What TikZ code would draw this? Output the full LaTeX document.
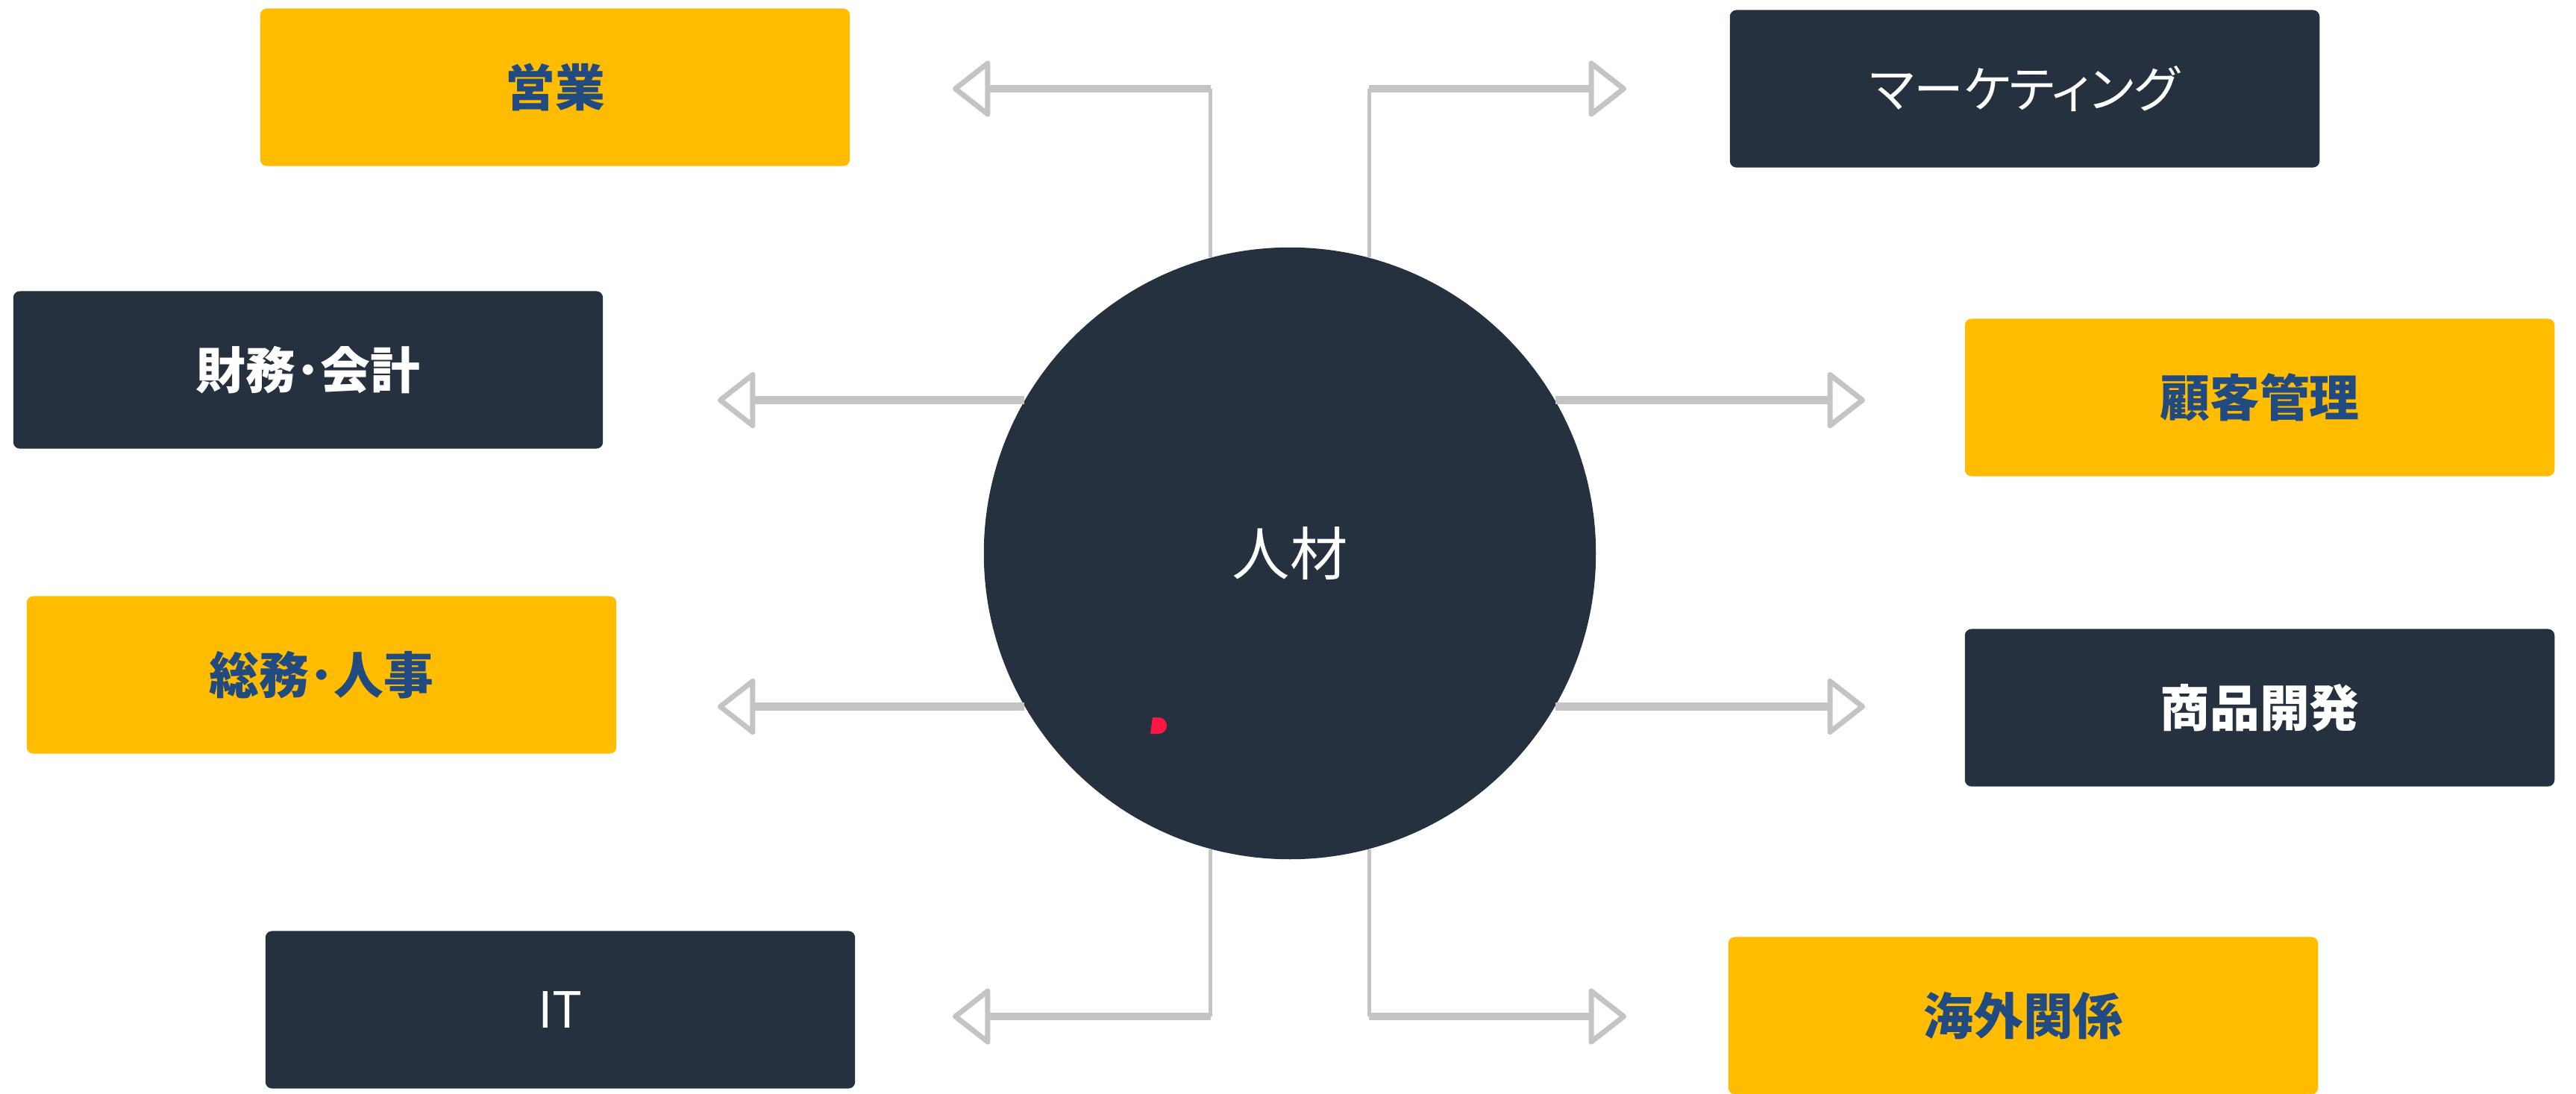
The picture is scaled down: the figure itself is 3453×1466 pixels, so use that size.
\documentclass[tikz,border=0pt]{standalone}
\usepackage{fontspec}
\usepackage{tikz}
\usetikzlibrary{arrows.meta}
\setmainfont{Noto Sans CJK JP}
\definecolor{hrgold}{HTML}{FFBC00}
\definecolor{hrnavy}{HTML}{263140}
\definecolor{hrblue}{HTML}{214B80}
\definecolor{hrgray}{HTML}{C4C4C4}
\definecolor{hrred}{HTML}{FF1744}

\begin{document}
\begin{tikzpicture}[x=0.01cm, y=-0.01cm,
  dept/.style={rounded corners=2.5pt, minimum width=7.9cm, minimum height=2.11cm, inner sep=0pt},
  goldbox/.style={dept, fill=hrgold, text=hrblue, font=\fontsize{19}{23}\selectfont\bfseries},
  navybox/.style={dept, fill=hrnavy, text=white, font=\fontsize{19}{23}\selectfont},
  navybold/.style={navybox, font=\fontsize{19}{23}\selectfont\bfseries},
  linkh/.style={draw=hrgray, line width=3pt, -{Triangle[open, length=15pt, width=23pt, line width=2pt, round]}},
  linkv/.style={draw=hrgray, line width=1.5pt}]
\useasboundingbox (0,0) rectangle (3453,1466);

% departments
\node[goldbox] (sales) at (744,117) {営業};
\node[navybox] (mkt) at (2714,119) {\addfontfeatures{RawFeature=+palt}マーケティング};
\node[navybold] (fin) at (413,496) {財務･会計};
\node[goldbox] (crm) at (3029,533) {顧客管理};
\node[goldbox] (ga) at (431,905) {総務･人事};
\node[navybold] (dev) at (3029,949) {商品開発};
\node[navybox] (it) at (751,1354) {IT};
\node[goldbox] (intl) at (2712,1362) {海外関係};

% hub
\node[circle, fill=hrnavy, minimum size=8.2cm, inner sep=0pt, text=white, font=\fontsize{22}{26}\selectfont] (hub) at (1729,742) {人材};
\fill[hrred] (1545,962) -- (1553,962) arc[start angle=-90, end angle=90, radius=11] -- (1542,984) -- cycle;

% arrow ends
\coordinate (tl) at (1277,119);
\coordinate (tr) at (2180,119);
\coordinate (ml) at (962,535);
\coordinate (mr) at (2500,535);
\coordinate (ll) at (962,949);
\coordinate (lr) at (2500,949);
\coordinate (bl) at (1277,1363);
\coordinate (br) at (2180,1363);
\coordinate (tlc) at (hub.105 |- tl);
\coordinate (trc) at (hub.75 |- tr);
\coordinate (blc) at (hub.255 |- bl);
\coordinate (brc) at (hub.285 |- br);

% connectors
\draw[linkv] (hub.105) -- (tlc);
\draw[linkh] (tlc) -- (tl);
\draw[linkv] (hub.75) -- (trc);
\draw[linkh] (trc) -- (tr);
\draw[linkh] (hub.150) -- (hub.150 -| ml);
\draw[linkh] (hub.30) -- (hub.30 -| mr);
\draw[linkh] (hub.210) -- (hub.210 -| ll);
\draw[linkh] (hub.330) -- (hub.330 -| lr);
\draw[linkv] (hub.255) -- (blc);
\draw[linkh] (blc) -- (bl);
\draw[linkv] (hub.285) -- (brc);
\draw[linkh] (brc) -- (br);
\end{tikzpicture}
\end{document}
